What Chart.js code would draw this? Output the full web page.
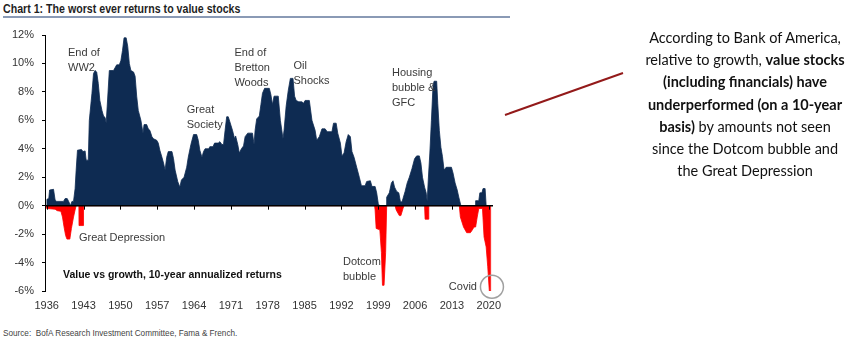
<!DOCTYPE html>
<html>
<head>
<meta charset="utf-8">
<script src="https://cdn.jsdelivr.net/npm/chart.js@4.4.1/dist/chart.umd.min.js"></script>
<style>
  html, body { margin:0; padding:0; background:#fff; width:857px; height:341px; overflow:hidden; }
  #title { position:absolute; left:3px; top:2px; font-family:'Liberation Sans',Arial,sans-serif; font-weight:bold; font-size:12.5px; color:#1f1f1f; white-space:nowrap; transform:scaleX(0.85); transform-origin:0 0; }
  #rule { position:absolute; left:3px; top:16px; width:507px; height:2px; background:#8a9ab5; }
  #source { position:absolute; left:3px; top:327px; font-family:'Liberation Sans',Arial,sans-serif; font-size:9.5px; color:#444; white-space:nowrap; transform:scaleX(0.86); transform-origin:0 0; }
  #wrap { position:absolute; left:0; top:0; width:510px; height:320px; }
  #note { position:absolute; left:635px; top:27px; width:220px; text-align:center; font-family:Lato,'Open Sans',sans-serif; font-size:14.5px; line-height:22.2px; color:#111; }
  #arrow { position:absolute; left:0; top:0; }
</style>
</head>
<body>
<div id="title">Chart 1: The worst ever returns to value stocks</div>
<div id="rule"></div>
<div id="wrap"><canvas id="c" width="510" height="320"></canvas></div>
<div id="source">Source:&nbsp; BofA Research Investment Committee, Fama &amp; French.</div>
<svg id="arrow" width="857" height="341"><line x1="505" y1="115" x2="623" y2="73" stroke="#931a1a" stroke-width="2"/></svg>
<div id="note">According to Bank of America,<br>relative to growth, <b>value stocks</b><br><b>(including financials) have</b><br><b>underperformed (on a 10-year</b><br><b>basis)</b> by amounts not seen<br>since the Dotcom bubble and<br>the Great Depression</div>
<script>
// ---- data ----
const xTickYears = [1936,1943,1950,1957,1964,1971,1978,1985,1992,1999,2006,2013,2020];
const yTickValues = [-6,-4,-2,0,2,4,6,8,10,12];

// positive part (value outperforming), year -> % annualized
const posYears = [1936.0,1936.05,1936.4,1936.55,1937.3,1937.6,1937.9,1939.2,1939.5,1939.9,1940.3,1940.5,1940.8,1941.1,1941.4,1941.6,1941.85,1942.6,1942.9,1943.3,1943.5,1943.9,1944.1,1944.6,1944.9,1945.2,1945.5,1945.8,1946.1,1946.5,1946.8,1947.1,1947.3,1947.5,1947.9,1948.7,1949.3,1949.8,1950.1,1950.4,1950.7,1951.1,1951.4,1951.7,1952.0,1952.5,1952.8,1953.1,1953.4,1953.9,1954.3,1954.5,1955.0,1955.3,1955.6,1956.0,1956.3,1956.9,1957.2,1957.5,1957.9,1958.2,1958.5,1958.8,1959.1,1959.8,1960.1,1960.4,1960.9,1961.3,1961.6,1962.1,1962.6,1962.9,1963.4,1963.9,1964.5,1964.8,1965.1,1965.5,1965.8,1966.1,1966.8,1967.0,1967.6,1967.9,1968.6,1968.9,1969.3,1969.6,1969.9,1970.2,1970.5,1970.8,1971.3,1971.7,1971.9,1972.3,1972.6,1973.0,1973.4,1973.7,1974.2,1975.1,1975.4,1975.6,1975.9,1976.4,1976.7,1977.0,1977.4,1978.3,1978.6,1978.9,1979.2,1980.0,1980.4,1980.9,1981.1,1981.5,1981.9,1982.3,1982.8,1983.1,1983.4,1983.9,1984.5,1984.8,1985.1,1985.9,1986.4,1987.0,1987.3,1987.8,1988.3,1988.9,1989.3,1990.2,1990.5,1991.0,1991.3,1991.8,1992.1,1992.5,1992.9,1993.3,1993.7,1994.0,1994.4,1994.9,1995.4,1995.8,1996.5,1996.8,1997.5,1997.8,1998.4,1998.7,1999.0,1999.2,2000.5,2000.6,2001.1,2001.5,2001.8,2002.1,2002.5,2002.9,2003.2,2003.5,2003.7,2004.1,2004.5,2004.9,2005.4,2005.9,2006.3,2006.8,2007.1,2007.4,2007.8,2008.1,2008.3,2008.5,2008.8,2009.1,2009.4,2009.6,2010.1,2010.3,2010.6,2010.9,2011.2,2011.5,2011.9,2012.9,2013.2,2013.6,2014.0,2014.3,2014.7,2017.4,2017.5,2018.1,2018.3,2018.7,2018.9,2019.3,2019.5];
const posValues = [0.0,0.45,0.5,1.1,1.15,0.4,0.3,0.3,0.5,0.5,0.2,0.0,0.3,0.3,1.2,2.5,3.9,3.95,3.8,3.85,3.2,3.2,6.0,7.9,9.3,9.5,9.4,8.6,7.4,6.7,6.3,6.2,5.8,7.0,9.5,9.5,9.9,9.9,10.2,10.9,11.8,11.8,11.2,10.0,9.5,9.4,9.1,7.7,6.7,6.0,5.1,5.7,5.7,5.4,5.3,4.85,4.7,4.6,4.4,3.9,3.4,3.0,2.5,3.4,3.8,3.8,3.3,2.5,1.7,1.3,1.8,2.0,2.7,3.4,4.3,5.0,5.0,4.6,3.9,3.4,3.8,4.0,4.0,4.15,4.15,4.4,4.4,4.5,4.3,4.3,5.3,6.25,6.25,5.9,5.3,4.7,4.9,4.3,3.7,4.0,4.2,4.85,5.1,5.1,4.3,5.3,6.1,6.3,7.1,7.9,8.25,8.25,7.8,7.1,7.7,7.7,6.0,4.7,5.3,7.0,8.1,8.95,8.95,7.7,7.4,7.3,7.3,7.2,7.4,7.4,6.0,5.3,4.6,4.85,5.4,5.4,5.2,5.2,5.8,5.8,5.1,4.4,3.5,3.7,4.5,5.0,4.85,3.8,3.4,2.7,2.0,1.4,1.4,1.7,1.75,1.35,1.35,0.9,0.15,0.0,0.0,0.6,0.9,1.6,1.75,1.3,1.0,0.9,0.3,0.25,0.5,1.0,1.6,2.0,2.6,3.3,3.5,3.5,3.0,2.0,1.3,0.9,0.3,1.8,3.7,6.0,8.4,8.75,8.75,7.2,5.3,4.1,3.45,2.5,2.7,2.7,2.3,1.6,1.1,0.6,0.0,0.0,0.35,0.35,0.9,0.9,1.2,1.2,0.0];

// negative part (value underperforming)
const negYears = [1936.0,1936.05,1937.6,1938.0,1938.7,1939.0,1939.3,1939.6,1939.85,1940.4,1940.7,1941.1,1941.4,1941.6,1942.15,1942.2,1942.95,1943.0,1998.3,1998.4,1998.6,1999.3,1999.6,1999.8,2000.1,2000.4,2000.6,2002.2,2002.4,2003.0,2003.3,2003.7,2003.9,2007.8,2007.9,2008.5,2008.6,2014.4,2014.6,2015.2,2015.8,2016.5,2016.8,2017.2,2017.5,2017.8,2018.1,2018.8,2019.1,2019.5,2019.8,2020.1,2020.3,2020.35];
const negValues = [0,-0.2,-0.25,-0.35,-0.4,-0.8,-1.5,-2.1,-2.35,-2.35,-1.6,-0.8,-0.3,0,0,-1.4,-1.4,0,0,-0.3,-1.6,-1.7,-3.3,-5.6,-5.6,-3.3,0,0,-0.3,-0.7,-0.7,-0.2,0,0,-0.95,-0.95,0,0,-0.8,-1.5,-1.9,-1.9,-1.75,-1.5,-1.5,-0.8,-0.2,-0.2,-2.2,-2.9,-4.3,-6.0,-6.0,0];

// text annotations placed in data coordinates
const annotations = [
  { lines:['End of','WW2'], year:1940.05, value:10.74, align:'left' },
  { lines:['Great Depression'], year:1942.14, value:-2.27, align:'left' },
  { lines:['Great','Society'], year:1962.6, value:6.73, align:'left' },
  { lines:['End of','Bretton','Woods'], year:1971.67, value:10.74, align:'left' },
  { lines:['Oil','Shocks'], year:1982.9, value:9.82, align:'left' },
  { lines:['Housing','bubble &','GFC'], year:2001.6, value:9.33, align:'left' },
  { lines:['Dotcom','bubble'], year:1992.3, value:-3.96, align:'left' },
  { lines:['Covid'], year:2017.75, value:-5.72, align:'right' },
  { lines:['Value vs growth, 10-year annualized returns'], year:1939.1, value:-4.87, align:'left', bold:true, size:10.5 }
];
const covidCircle = { year:2020.6, value:-5.70, radius:11.5 };

const NAVY = '#0e2b52';
const RED = '#ff0000';
const FONT = "'Liberation Sans', Arial, sans-serif";

const overlay = {
  id:'overlay',
  afterDatasetsDraw(chart){
    const {ctx, chartArea, scales:{x, y}} = chart;
    const y0 = y.getPixelForValue(0);
    ctx.save();
    // zero axis line and ticks
    ctx.strokeStyle = '#000';
    ctx.lineWidth = 1.5;
    ctx.beginPath();
    ctx.moveTo(chartArea.left, y0);
    ctx.lineTo(chartArea.right, y0);
    ctx.stroke();
    ctx.lineWidth = 1;
    xTickYears.forEach(v => {
      const px = Math.round(x.getPixelForValue(v)) + 0.5;
      ctx.beginPath();
      ctx.moveTo(px, y0);
      ctx.lineTo(px, y0 + 4);
      ctx.stroke();
    });
    // annotations
    ctx.textBaseline = 'middle';
    annotations.forEach(a => {
      ctx.font = (a.bold ? 'bold ' : '') + (a.size || 11) + 'px ' + FONT;
      ctx.fillStyle = a.bold ? '#111' : '#3a3a3a';
      ctx.textAlign = a.align;
      const px = x.getPixelForValue(a.year);
      const py = y.getPixelForValue(a.value);
      a.lines.forEach((t, i) => ctx.fillText(t, px, py + i * 15));
    });
    // covid circle
    ctx.strokeStyle = '#a0a0a0';
    ctx.lineWidth = 1.5;
    ctx.beginPath();
    ctx.arc(x.getPixelForValue(covidCircle.year), y.getPixelForValue(covidCircle.value), covidCircle.radius, 0, Math.PI * 2);
    ctx.stroke();
    ctx.restore();
  }
};

const toPts = (xs, vs) => xs.map((v, i) => ({ x: v, y: vs[i] }));

new Chart(document.getElementById('c'), {
  type: 'line',
  data: {
    datasets: [
      { data: toPts(negYears, negValues), fill: 'origin', backgroundColor: RED, borderColor: RED, borderWidth: 0.8, pointRadius: 0, tension: 0 },
      { data: toPts(posYears, posValues), fill: 'origin', backgroundColor: NAVY, borderColor: NAVY, borderWidth: 0.8, pointRadius: 0, tension: 0 }
    ]
  },
  options: {
    responsive: false,
    animation: false,
    devicePixelRatio: 1,
    layout: { padding: { top: 35, right: 17, left: 0, bottom: 0 } },
    plugins: { legend: { display: false }, tooltip: { enabled: false } },
    scales: {
      x: {
        type: 'linear',
        min: 1935.68,
        max: 2020.8,
        border: { display: false },
        grid: { display: false, drawTicks: false },
        afterBuildTicks: s => { s.ticks = xTickYears.map(v => ({ value: v })); },
        afterFit: s => { s.height = 29; },
        ticks: { padding: 8, maxRotation: 0, autoSkip: false, color: '#333', font: { family: FONT, size: 11 }, callback: v => String(v) }
      },
      y: {
        min: -6,
        max: 12,
        afterBuildTicks: s => { s.ticks = yTickValues.map(v => ({ value: v })); },
        afterFit: s => { s.width = 45; },
        border: { display: true, color: '#000', width: 1 },
        grid: { drawOnChartArea: false, drawTicks: true, tickLength: 3, color: '#000' },
        ticks: { padding: 8, color: '#333', font: { family: FONT, size: 11 }, callback: v => v + '%' }
      }
    }
  },
  plugins: [overlay]
});
</script>
</body>
</html>
